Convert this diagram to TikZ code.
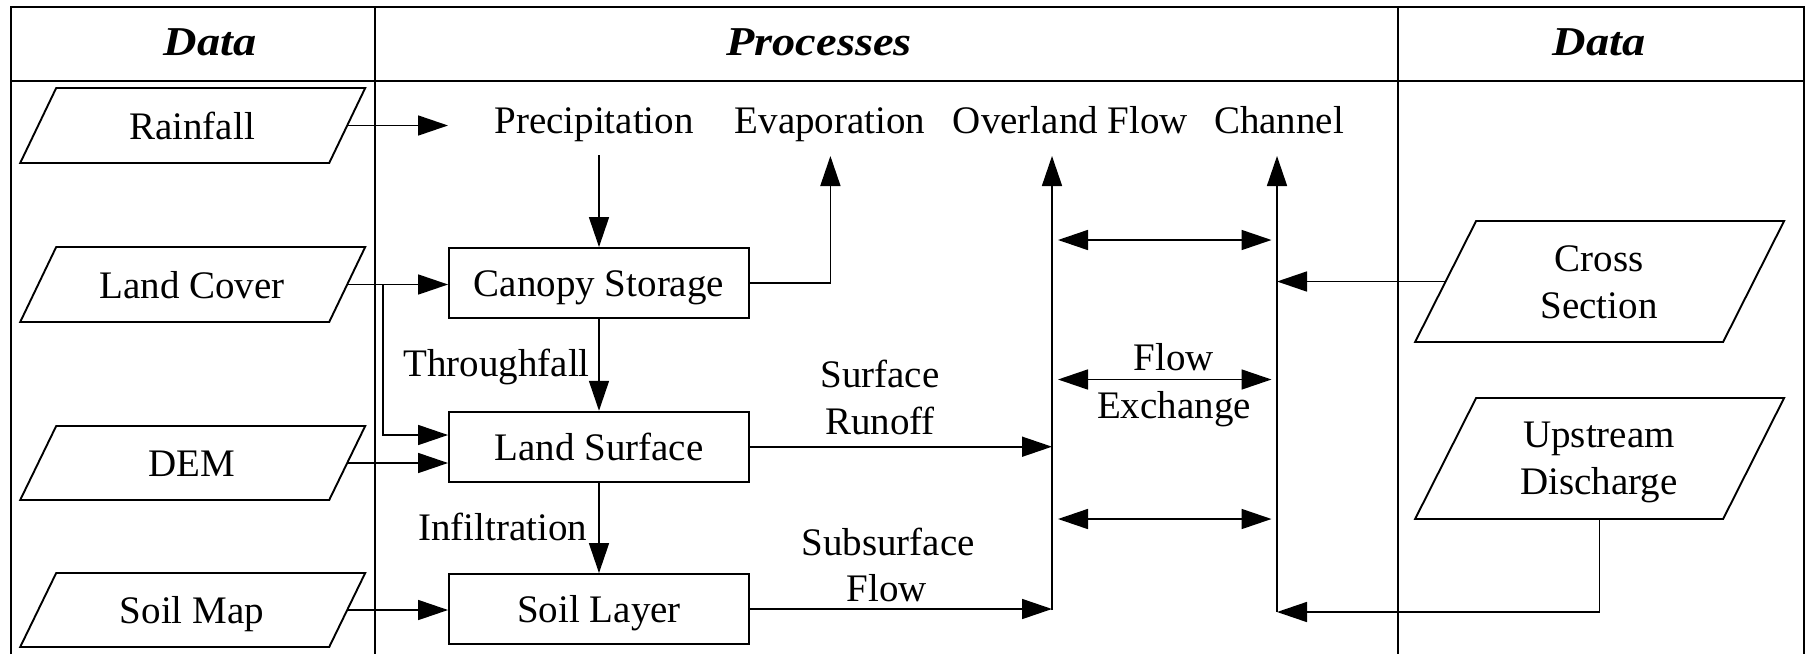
\documentclass[tikz,border=0pt]{standalone}
\usepackage{fontspec}
\setmainfont{Liberation Serif}
\newfontfamily\hdrfont[FakeStretch=1.13]{Liberation Serif}
\usetikzlibrary{arrows.meta,calc}
\newcommand{\paragram}[6]{%
  \draw[parastyle] ({#2-#4+#6},{#3-#5}) -- ({#2+#4+#6},{#3-#5}) -- ({#2+#4-#6},{#3+#5}) -- ({#2-#4-#6},{#3+#5}) -- cycle;
  \coordinate (#1-r) at ({#2+#4},#3);
  \coordinate (#1-l) at ({#2-#4},#3);
  \coordinate (#1-b) at (#2,{#3+#5});
}
\begin{document}
\begin{tikzpicture}[x=1pt,y=-1pt,
  every node/.style={inner sep=0pt, font=\fontsize{39}{46}\selectfont},
  txt/.style={text height=27pt, text depth=0pt},
  bl/.style={anchor=base},
  hdr/.style={anchor=base, font=\hdrfont\fontsize{41}{46}\selectfont\bfseries\itshape},
  frameline/.style={line width=2pt},
  parastyle/.style={line width=1.9pt, line join=miter},
  procbox/.style={draw, line width=1.9pt, minimum width=300pt, minimum height=70pt, text height=27pt, text depth=0pt},
  conn/.style={line width=1.6pt, -{Triangle[length=30pt,width=20pt]}},
  dconn/.style={line width=1.6pt, {Triangle[length=30pt,width=20pt]}-{Triangle[length=30pt,width=20pt]}},
]
\useasboundingbox (0,0) rectangle (1806,654);

% frame
\draw[frameline] (10.7,654) -- (10.7,6.5) -- (1804,6.5) -- (1804,654);
\draw[frameline] (10.7,80.6) -- (1804,80.6);
\draw[frameline] (374.7,6.5) -- (374.7,654);
\draw[frameline] (1398,6.5) -- (1398,654);

% headers
\node[hdr] (hd1) at (210,55) {Data};
\node[hdr] (hd2) at (819,55) {Processes};
\node[hdr] (hd3) at (1599,55) {Data};

% process labels
\node[bl] (precip) at (594,133) {Precipitation};
\node[bl] (evap) at (830,133) {Evaporation};
\node[bl] (overland) at (1070.5,133) {Overland Flow};
\node[bl] (channel) at (1279,133) {Channel};

% process boxes
\node[procbox] (canopy) at (599,283) {Canopy Storage};
\node[procbox] (landsurf) at (599,446.7) {Land Surface};
\node[procbox] (soil) at (599,609) {Soil Layer};

% data parallelograms (left)
\paragram{rain}{192.7}{125.5}{154.5}{37.5}{18}
\node[txt] (rainfall) at (192,125.5) {Rainfall};
\paragram{lcover}{192.7}{284.5}{154.5}{37.5}{18}
\node[txt] (landcover) at (192,284.5) {Land Cover};
\paragram{dem}{192.7}{463}{154.5}{37}{18}
\node[txt] (demtext) at (192,463) {DEM};
\paragram{smap}{192.7}{610}{154.5}{37}{18}
\node[txt] (soilmap) at (192,610) {Soil Map};

% data parallelograms (right)
\paragram{cross}{1599.6}{281.5}{154}{60.5}{30.5}
\node[bl] (cs1) at (1599,271) {Cross};
\node[bl] (cs2) at (1599,318) {Section};
\paragram{usd}{1599.6}{458.5}{154}{60.5}{30.5}
\node[bl] (us1) at (1599,447) {Upstream};
\node[bl] (us2) at (1599,494) {Discharge};

% labels
\node[anchor=base east] (thru) at (590,376.7) {Throughfall};
\node[anchor=base east] (infil) at (587.5,540) {Infiltration};
\node[bl] (surf1) at (880,387) {Surface};
\node[bl] (surf2) at (880,434) {Runoff};
\node[bl] (sub1) at (888,555) {Subsurface};
\node[bl] (sub2) at (887,601) {Flow};
\node[bl] (fx1) at (1174,370) {Flow};
\node[bl] (fx2) at (1174,418) {Exchange};

% coordinates
\coordinate (raintip) at (448,125.5);
\coordinate (precsrc) at (599,155);
\coordinate (evtip) at (830.4,156);
\coordinate (oftip) at (1052,156);
\coordinate (ofbot) at (1052,610);
\coordinate (chtip) at (1277,156);
\coordinate (chbot) at (1277,612);
\coordinate (lcbranch) at (383,284.5);
\coordinate (fxa1) at (1058,240);
\coordinate (fxb1) at (1271.5,240);
\coordinate (fxa2) at (1058,379.5);
\coordinate (fxb2) at (1271.5,379.5);
\coordinate (fxa3) at (1058,519);
\coordinate (fxb3) at (1271.5,519);

% connectors
\draw[conn] (rain-r) -- (raintip);
\draw[conn] (precsrc) -- (canopy.north);
\draw[conn] (lcover-r) -- (lcover-r -| canopy.west);
\draw[conn] (lcbranch) |- ($(landsurf.west)+(0,-11.7)$);
\draw[conn] (dem-r) -- (dem-r -| landsurf.west);
\draw[conn] (smap-r) -- (smap-r -| soil.west);
\draw[conn] (canopy.east) -| (evtip);
\draw[conn] (canopy.south) -- (landsurf.north);
\draw[conn] (landsurf.south) -- (soil.north);
\draw[conn] (landsurf.east) -- (landsurf.east -| ofbot);
\draw[conn] (soil.east) -- (soil.east -| ofbot);
\draw[conn] (ofbot) -- (oftip);
\draw[conn] (chbot) -- (chtip);
\draw[dconn] (fxa1) -- (fxb1);
\draw[dconn] (fxa2) -- (fxb2);
\draw[dconn] (fxa3) -- (fxb3);
\draw[conn] (cross-l) -- (cross-l -| chbot);
\draw[conn] (usd-b) |- (chbot);
\end{tikzpicture}
\end{document}
